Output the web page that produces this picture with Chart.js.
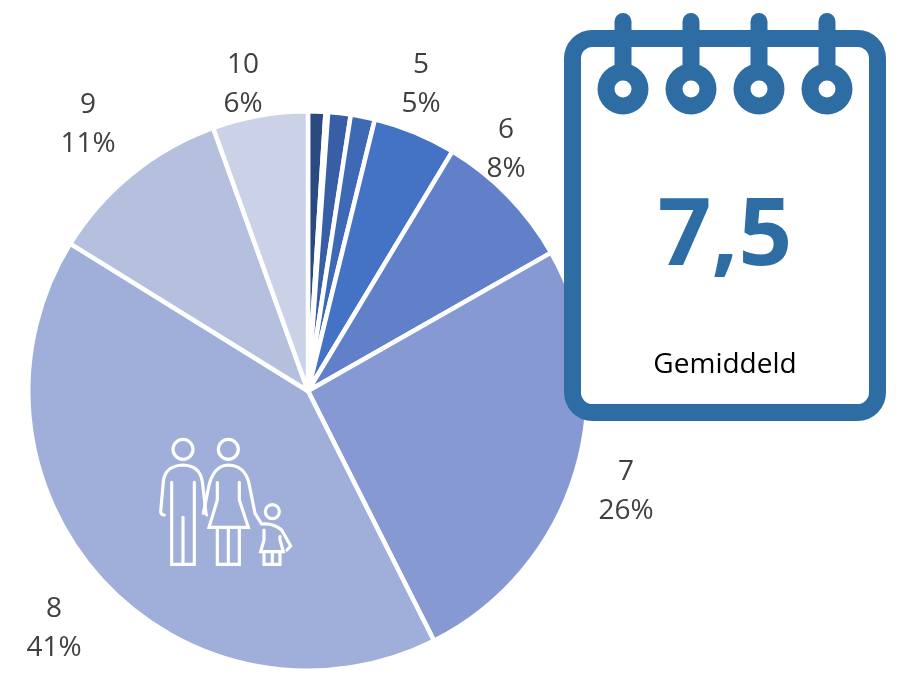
<!DOCTYPE html>
<html><head><meta charset="utf-8">
<style>html,body{margin:0;padding:0;background:#fff}#w{position:relative;width:898px;height:677px}</style>
<script src="https://cdn.jsdelivr.net/npm/chart.js@4"></script>
</head><body><div id="w"><canvas id="c" width="898" height="677"></canvas></div>
<script>
const categories = ['1','2','3','4','5','6','7','8','9','10'];
const shares = [1.0,0.15,1.3,1.4,4.8,8.15,25.85,41.35,10.68,5.52];
const sliceColors = ['#2a4a80','#30538f','#385fa6','#3e69b5','#4472c4','#6180c9','#8699d3','#a0afd9','#b5c0df','#cbd2e8'];
const labelledCategories = ['5','6','7','8','9','10'];
const averageValue = '7,5';
const averageCaption = 'Gemiddeld';
const labelCenters = {'5':[421,63],'6':[506,128],'7':[626,470],'8':[54,607],'9':[88,103],'10':[243,63]};

const overlay = {
  id:'overlay',
  afterDraw(chart){
    const ctx = chart.ctx;
    const total = shares.reduce((a,b)=>a+b,0);
    ctx.save();
    ctx.translate(140,420); ctx.scale(1/3,1/3);
    ctx.strokeStyle='#fff'; ctx.lineWidth=9.5; ctx.lineJoin='miter'; ctx.lineCap='round';
    const paths=[
      'M73 285 Q63 285 62 275 L70 185 Q75 137 129 135 Q180 137 187 185 L197 270 Q198 285 200 285',
      'M95 187 L95 433 L163 433 L163 187','M129 292 L129 433',
      'M190 280 L205 205 Q218 137 265 135 Q315 137 327 190 L345 280 L365 312 Q400 308 425 330 L452 378 L441 390',
      'M232 188 L232 240 L207 322 L325 322 L298 240 L298 187',
      'M232 322 L232 433 L298 433 L298 322','M265 322 L265 433',
      'M372 330 L372 360 L362 395 L430 395 L420 360 L420 350',
      'M372 395 L372 433 L420 433 L420 395','M397 395 L397 433'
    ];
    paths.forEach(p=>ctx.stroke(new Path2D(p)));
    [[129,88,30],[265,88,30],[397,275,21]].forEach(([x,y,r])=>{ctx.beginPath();ctx.arc(x,y,r,0,Math.PI*2);ctx.stroke();});
    ctx.restore();
    const blue='#2e6da4';
    ctx.save();
    ctx.fillStyle='#fff'; ctx.strokeStyle=blue; ctx.lineWidth=17;
    ctx.beginPath(); ctx.roundRect(572.5,38.5,305,374,20); ctx.fill(); ctx.stroke();
    [623,691,759,827].forEach(x=>{
      ctx.lineCap='round'; ctx.lineWidth=17;
      ctx.beginPath(); ctx.moveTo(x,21.5); ctx.lineTo(x,80); ctx.stroke();
      ctx.beginPath(); ctx.arc(x,89,25.5,0,Math.PI*2); ctx.fillStyle=blue; ctx.fill();
      ctx.beginPath(); ctx.arc(x,89,8.5,0,Math.PI*2); ctx.fillStyle='#fff'; ctx.fill();
    });
    ctx.textAlign='center'; ctx.textBaseline='alphabetic';
    ctx.fillStyle=blue; ctx.font='bold 94px "Open Sans"';
    ctx.fillText(averageValue,725,265);
    ctx.fillStyle='#000'; ctx.font='28px "Open Sans"';
    ctx.fillText(averageCaption,725,373);
    ctx.fillStyle='#404040'; ctx.font='28px "Open Sans"';
    labelledCategories.forEach(cat=>{
      const i=categories.indexOf(cat);
      const [x,y]=labelCenters[cat];
      ctx.fillText(cat,x,y+10);
      ctx.fillText(Math.round(shares[i]/total*100)+'%',x,y+49);
    });
    ctx.restore();
  }
};

new Chart(document.getElementById('c'),{
  type:'pie',
  data:{labels:categories,datasets:[{data:shares,backgroundColor:sliceColors,borderColor:'#fff',borderWidth:4.5}]},
  options:{
    responsive:false,animation:false,
    layout:{padding:{left:26,right:308,top:109,bottom:4}},
    plugins:{legend:{display:false},tooltip:{enabled:false}}
  },
  plugins:[overlay]
});
</script></body></html>
